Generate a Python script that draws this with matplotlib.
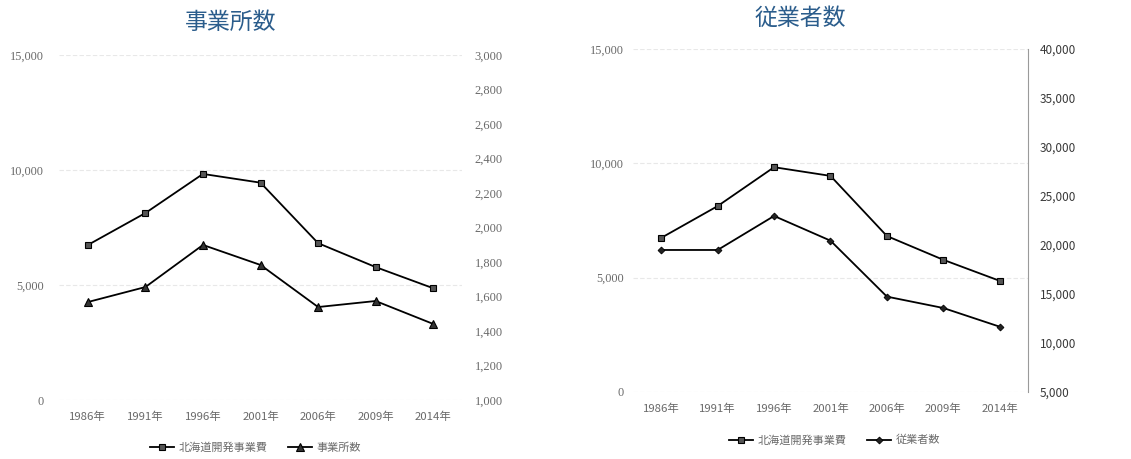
import matplotlib
matplotlib.use("Agg")
import matplotlib.pyplot as plt
from matplotlib.ticker import FuncFormatter

plt.rcParams['font.family'] = ['Noto Sans CJK JP', 'DejaVu Sans']

years = ["1986年", "1991年", "1996年", "2001年", "2006年", "2009年", "2014年"]
budget = [6740, 8130, 9830, 9450, 6820, 5780, 4860]          # 北海道開発事業費
offices = [1568, 1655, 1899, 1783, 1539, 1574, 1441]          # 事業所数
workers = [19490, 19490, 22960, 20440, 14730, 13570, 11660]   # 従業者数

left_ticks = [0, 5000, 10000, 15000]
office_ticks = [1000, 1200, 1400, 1600, 1800, 2000, 2200, 2400, 2600, 2800, 3000]
worker_ticks = [5000, 10000, 15000, 20000, 25000, 30000, 35000, 40000]

fig = plt.figure(figsize=(11.31, 4.59), dpi=100)
fmt = FuncFormatter(lambda v, p: f"{int(v):,}")
title_color = "#2B5D8C"
gray = "#6a6a6a"
grid_c = "#e8e8e8"

def setup(ax, ax2, lpad, rpad, xpad, rcolor, rsize):
    x = list(range(len(years)))
    ax.set_xlim(-0.5, len(years) - 0.5)
    ax.set_ylim(0, 15000)
    ax.set_yticks(left_ticks)
    ax.yaxis.set_major_formatter(fmt)
    ax.set_xticks(x)
    ax.set_xticklabels(years, fontsize=8.2, color=gray)
    ax.tick_params(axis='y', length=0, pad=lpad, labelsize=8.8, labelcolor=gray)
    ax.tick_params(axis='x', length=0, pad=xpad)
    for t in ax.get_yticklabels():
        t.set_fontfamily(['Liberation Serif'])
    ax.grid(axis='y', color=grid_c, linewidth=0.8, linestyle=(0, (4, 2)))
    ax.set_axisbelow(True)
    for s in ax.spines.values():
        s.set_visible(False)
    for s in ax2.spines.values():
        s.set_visible(False)
    ax2.tick_params(axis='y', length=0, pad=rpad, labelsize=rsize, labelcolor=rcolor)
    ax2.yaxis.set_major_formatter(fmt)
    return x

# Left chart
axL = fig.add_axes([0.0522, 0.1285, 0.3563, 0.7516])
axL2 = axL.twinx()
axL2.set_ylim(1000, 3000)
axL2.set_yticks(office_ticks)
x = setup(axL, axL2, 11, 9, 8, gray, 9)
for t in axL2.get_yticklabels():
    t.set_fontfamily(['Liberation Serif'])
l1, = axL.plot(x, budget, color='black', lw=1.3, marker='s', ms=4.5,
               mfc='#555555', mec='black', mew=0.8, label='北海道開発事業費')
l2, = axL2.plot(x, offices, color='black', lw=1.3, marker='^', ms=5.5,
                mfc='#333333', mec='black', mew=0.8, label='事業所数')
fig.text(0.2035, 0.952, '事業所数', ha='center', va='center', fontsize=16.5, color=title_color)
fig.legend([l1, l2], ['北海道開発事業費', '事業所数'], loc='center',
           bbox_to_anchor=(0.226, 0.024), ncol=2, frameon=False, fontsize=8,
           labelcolor=gray, handlelength=2.2, columnspacing=1.8, handletextpad=0.4)

# Right chart
axR = fig.add_axes([0.5597, 0.1460, 0.3492, 0.7473])
axR2 = axR.twinx()
axR2.set_ylim(5000, 40000)
axR2.set_yticks(worker_ticks)
x = setup(axR, axR2, 6.5, 8.5, 8, '#3a3a3a', 8.5)
axR2.spines['right'].set_visible(True)
axR2.spines['right'].set_color('#9a9a9a')
axR2.spines['right'].set_linewidth(0.8)
r1, = axR.plot(x, budget, color='black', lw=1.3, marker='s', ms=4.5,
               mfc='#555555', mec='black', mew=0.8, label='北海道開発事業費')
r2, = axR2.plot(x, workers, color='black', lw=1.3, marker='D', ms=3.5,
                mfc='#222222', mec='black', mew=0.6, label='従業者数')
fig.text(0.7073, 0.96, '従業者数', ha='center', va='center', fontsize=16.5, color=title_color)
fig.legend([r1, r2], ['北海道開発事業費', '従業者数'], loc='center',
           bbox_to_anchor=(0.738, 0.041), ncol=2, frameon=False, fontsize=8,
           labelcolor=gray, handlelength=2.2, columnspacing=1.8, handletextpad=0.4)

fig.savefig('out.png', dpi=100)
